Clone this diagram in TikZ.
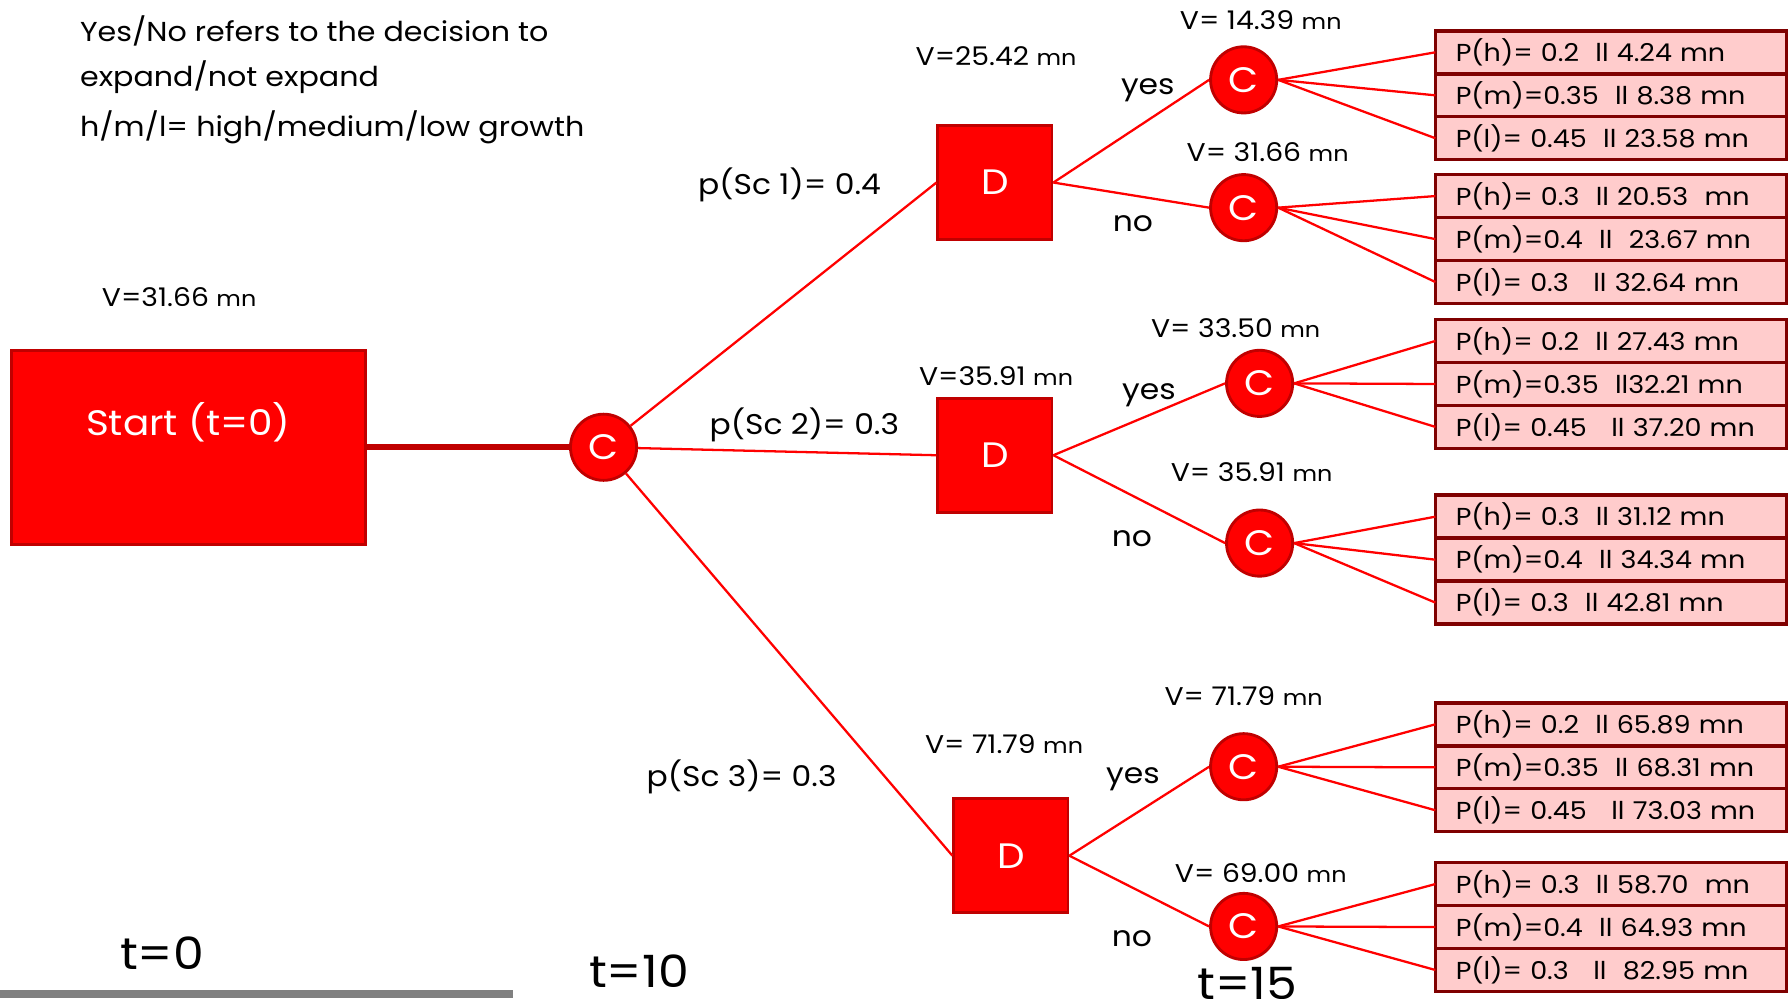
\documentclass[tikz,border=0pt]{standalone}
\usepackage{fontspec}
\setmainfont{Poppins}[FakeStretch=1.1]
\definecolor{nodered}{HTML}{FF0000}
\definecolor{edgered}{HTML}{C00000}
\definecolor{boxfill}{HTML}{FFCCCC}
\definecolor{boxedge}{HTML}{7F0000}
\definecolor{bargray}{HTML}{808080}
\newcommand{\mnu}{{\fontsize{19}{19}\selectfont mn}}
\tikzset{
 chance/.style={circle, fill=nodered, draw=edgered, line width=2.5pt, minimum size=58pt, inner sep=0pt, text=white, font=\fontsize{31}{31}\selectfont},
 decision/.style={rectangle, fill=nodered, draw=edgered, line width=2.5pt, minimum size=100pt, inner sep=0pt, text=white, font=\fontsize{31}{31}\selectfont},
 startbox/.style={rectangle, fill=nodered, draw=edgered, line width=2.5pt, minimum width=310pt, minimum height=170pt, inner sep=0pt},
 starttext/.style={text=white, font=\fontsize{31}{31}\selectfont, inner sep=0pt},
 outrow/.style={rectangle, fill=boxfill, draw=boxedge, line width=3pt, minimum width=308pt, minimum height=37.7pt, anchor=north west, inner xsep=18pt, inner ysep=0pt, outer sep=0pt, text width=272pt, align=left, font=\fontsize{21.5}{21.5}\selectfont},
 branch/.style={draw=nodered, line width=2pt},
 trunk/.style={draw=edgered, line width=5pt},
 lbl/.style={font=\fontsize{25}{25}\selectfont, inner sep=0pt},
 vlbl/.style={font=\fontsize{22.5}{22.5}\selectfont, inner sep=0pt},
 tlbl/.style={font=\fontsize{39}{39}\selectfont, inner sep=0pt},
 note/.style={font=\fontsize{24}{39}\selectfont, inner sep=0pt, align=left, anchor=north west},
}
\begin{document}
\begin{tikzpicture}[x=1pt,y=-1pt]
\useasboundingbox (0,0) rectangle (1568,875);
\fill[bargray] (0,868) rectangle (450,875);

\node[note] (notes) at (70,14) {Yes/No refers to the decision to\\ expand/not expand\\[5pt] h/m/l= high/medium/low growth};

% nodes
\node[startbox, label={[starttext, yshift=22pt]center:Start (t=0)}] (start) at (165,392) {};
\node[chance] (c0) at (529,392) {C};
\node[decision] (d1) at (872,160) {D};
\node[decision] (d2) at (872,399) {D};
\node[decision] (d3) at (886,750) {D};
\node[chance] (c1) at (1090,70) {C};
\node[chance] (c2) at (1090,182) {C};
\node[chance] (c3) at (1104,336) {C};
\node[chance] (c4) at (1104,476) {C};
\node[chance] (c5) at (1090,672) {C};
\node[chance] (c6) at (1090,812) {C};

% outcome rows
\node[outrow] (g1a) at (1258,27) {P(h)= 0.2\ \ ll 4.24 mn};
\node[outrow] (g1b) at (1258,64.7) {P(m)=0.35\ \ ll 8.38 mn};
\node[outrow] (g1c) at (1258,102.3) {P(l)= 0.45\ \ ll 23.58 mn};
\node[outrow] (g2a) at (1258,153) {P(h)= 0.3\ \ ll 20.53\ \ mn};
\node[outrow] (g2b) at (1258,190.7) {P(m)=0.4\ \ ll\ \ 23.67 mn};
\node[outrow] (g2c) at (1258,228.3) {P(l)= 0.3\ \ \ ll 32.64 mn};
\node[outrow] (g3a) at (1258,280) {P(h)= 0.2\ \ ll 27.43 mn};
\node[outrow] (g3b) at (1258,317.7) {P(m)=0.35\ \ ll32.21 mn};
\node[outrow] (g3c) at (1258,355.3) {P(l)= 0.45\ \ \ ll 37.20 mn};
\node[outrow] (g4a) at (1258,434) {P(h)= 0.3\ \ ll 31.12 mn};
\node[outrow] (g4b) at (1258,471.7) {P(m)=0.4\ \ ll 34.34 mn};
\node[outrow] (g4c) at (1258,509.3) {P(l)= 0.3\ \ ll 42.81 mn};
\node[outrow] (g5a) at (1258,616) {P(h)= 0.2\ \ ll 65.89 mn};
\node[outrow] (g5b) at (1258,653.7) {P(m)=0.35\ \ ll 68.31 mn};
\node[outrow] (g5c) at (1258,691.3) {P(l)= 0.45\ \ \ ll 73.03 mn};
\node[outrow] (g6a) at (1258,756) {P(h)= 0.3\ \ ll 58.70\ \ mn};
\node[outrow] (g6b) at (1258,793.7) {P(m)=0.4\ \ ll 64.93 mn};
\node[outrow] (g6c) at (1258,831.3) {P(l)= 0.3\ \ \ ll\ \ 82.95 mn};

% connectors
\draw[trunk] (start) -- (c0);
\draw[branch] (c0) -- (d1.west);
\draw[branch] (c0) -- (d2.west);
\draw[branch] (c0) -- (d3.west);
\draw[branch] (d1.east) -- (c1.west);
\draw[branch] (d1.east) -- (c2.west);
\draw[branch] (d2.east) -- (c3.west);
\draw[branch] (d2.east) -- (c4.west);
\draw[branch] (d3.east) -- (c5.west);
\draw[branch] (d3.east) -- (c6.west);
\foreach \c/\g in {c1/g1,c2/g2,c3/g3,c4/g4,c5/g5,c6/g6}{
  \draw[branch] (\c.east) -- (\g a.west);
  \draw[branch] (\c.east) -- (\g b.west);
  \draw[branch] (\c.east) -- (\g c.west);
}

% labels
\node[vlbl] (v0) at (157,260) {V=31.66 \mnu};
\node[lbl] (p1) at (692,162) {p(Sc 1)= 0.4};
\node[lbl] (p2) at (705,372) {p(Sc 2)= 0.3};
\node[lbl] (p3) at (650,681) {p(Sc 3)= 0.3};
\node[vlbl] (vd1) at (873,49) {V=25.42 \mnu};
\node[vlbl] (vd2) at (873,330) {V=35.91 \mnu};
\node[vlbl] (vd3) at (880,652) {V= 71.79 \mnu};
\node[vlbl] (vc1) at (1105,18) {V= 14.39 \mnu};
\node[vlbl] (vc2) at (1111,133) {V= 31.66 \mnu};
\node[vlbl] (vc3) at (1083,288) {V= 33.50 \mnu};
\node[vlbl] (vc4) at (1097,414) {V= 35.91 \mnu};
\node[vlbl] (vc5) at (1090,610) {V= 71.79 \mnu};
\node[vlbl] (vc6) at (1105,765) {V= 69.00 \mnu};
\node[lbl] (y1) at (1006,79) {yes};
\node[lbl] (n1) at (993,196) {no};
\node[lbl] (y2) at (1007,346) {yes};
\node[lbl] (n2) at (992,472) {no};
\node[lbl] (y3) at (993,683) {yes};
\node[lbl] (n3) at (992,823) {no};
\node[tlbl] (t0) at (142,835) {t=0};
\node[tlbl] (t10) at (560,851) {t=10};
\node[tlbl, anchor=north] (t15) at (1093,848) {t=15};
\end{tikzpicture}
\end{document}
